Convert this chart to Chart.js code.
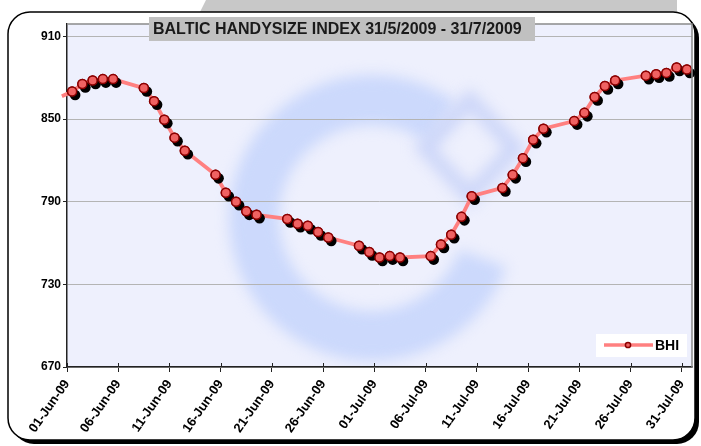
<!DOCTYPE html>
<html>
<head>
<meta charset="utf-8">
<script src="https://cdn.jsdelivr.net/npm/chart.js@4.4.0/dist/chart.umd.min.js"></script>
<style>
html, body { margin: 0; padding: 0; background: #fff; }
canvas { display: block; }
</style>
</head>
<body>
<canvas id="chart" width="701" height="446"></canvas>
<script>
// dados
const chartTitle = 'BALTIC HANDYSIZE INDEX 31/5/2009 - 31/7/2009';
const seriesName = 'BHI';
const dates = [
    '2009-05-31',
    '2009-06-01', '2009-06-02', '2009-06-03', '2009-06-04', '2009-06-05',
    '2009-06-08', '2009-06-09', '2009-06-10', '2009-06-11', '2009-06-12',
    '2009-06-15', '2009-06-16', '2009-06-17', '2009-06-18', '2009-06-19',
    '2009-06-22', '2009-06-23', '2009-06-24', '2009-06-25', '2009-06-26',
    '2009-06-29', '2009-06-30', '2009-07-01', '2009-07-02', '2009-07-03',
    '2009-07-06', '2009-07-07', '2009-07-08', '2009-07-09', '2009-07-10',
    '2009-07-13', '2009-07-14', '2009-07-15', '2009-07-16', '2009-07-17',
    '2009-07-20', '2009-07-21', '2009-07-22', '2009-07-23', '2009-07-24',
    '2009-07-27', '2009-07-28', '2009-07-29', '2009-07-30', '2009-07-31'
];
const bhiValues = [
    866.5,
    870, 875.5, 878, 879, 879,
    872.5, 863, 849.5, 836.5, 827,
    809.5, 796.5, 790, 783, 780.5,
    777.5, 774, 772.5, 768, 764,
    758, 753.5, 749.5, 750.5, 749.5,
    750.5, 759, 766, 779, 794,
    800, 809.5, 821.5, 835, 843,
    848.5, 854.5, 866, 874, 878,
    881.5, 882.5, 883.5, 887.5, 886
];
const xTickLabels = [
    '01-Jun-09', '06-Jun-09', '11-Jun-09', '16-Jun-09', '21-Jun-09', '26-Jun-09', '01-Jul-09',
    '06-Jul-09', '11-Jul-09', '16-Jul-09', '21-Jul-09', '26-Jul-09', '31-Jul-09'
];
const yTickValues = [670, 730, 790, 850, 910];

const lineColor = '#ff8080';
const markerFill = '#f06262';
const markerBorder = '#8b0000';
const fontFamily = '"Liberation Sans", Arial, sans-serif';

// posição no eixo: dias desde 01/06 + meio dia (ponto no centro do dia)
const dayZero = Date.UTC(2009, 5, 1);
function dayPos(s) {
    const p = s.split('-');
    return (Date.UTC(+p[0], +p[1] - 1, +p[2]) - dayZero) / 86400000 + 0.5;
}
const points = dates.map((d, i) => ({ x: dayPos(d), y: bhiValues[i] }));
const radii = dates.map(d => dayPos(d) < 0 ? 0 : 4.5);

function roundRect(ctx, x, y, w, h, r) {
    ctx.beginPath();
    ctx.moveTo(x + r, y);
    ctx.arcTo(x + w, y, x + w, y + h, r);
    ctx.arcTo(x + w, y + h, x, y + h, r);
    ctx.arcTo(x, y + h, x, y, r);
    ctx.arcTo(x, y, x + w, y, r);
    ctx.closePath();
}

const decorPlugin = {
    id: 'decor',
    beforeDraw(chart) {
        const ctx = chart.ctx;
        const a = chart.chartArea;
        ctx.save();
        ctx.fillStyle = '#fff';
        ctx.fillRect(0, 0, chart.width, chart.height);

        // faixa cinza atrás do quadro
        ctx.fillStyle = '#c8c8c8';
        ctx.beginPath();
        ctx.moveTo(206, 0);
        ctx.lineTo(677, 0);
        ctx.lineTo(677, 16);
        ctx.lineTo(198, 16);
        ctx.closePath();
        ctx.fill();

        // quadro com sombra
        ctx.fillStyle = '#000';
        roundRect(ctx, 12, 16, 687, 428, 22);
        ctx.fill();
        ctx.fillStyle = '#fff';
        roundRect(ctx, 8, 12, 687, 428, 22);
        ctx.fill();
        ctx.strokeStyle = '#000';
        ctx.lineWidth = 1.5;
        ctx.stroke();

        // fundo da área do gráfico
        ctx.fillStyle = '#eef0fd';
        ctx.fillRect(a.left, a.top, a.right - a.left, a.bottom - a.top);

        // marca d'água
        ctx.beginPath();
        ctx.rect(a.left, a.top, a.right - a.left, a.bottom - a.top);
        ctx.clip();
        ctx.filter = 'blur(7px)';
        ctx.strokeStyle = 'rgba(200,214,252,0.9)';
        ctx.lineWidth = 50;
        ctx.beginPath();
        ctx.arc(372, 218, 118, 20 * Math.PI / 180, 306 * Math.PI / 180, false);
        ctx.stroke();
        ctx.strokeStyle = 'rgba(200,210,248,0.85)';
        ctx.lineWidth = 16;
        ctx.beginPath();
        ctx.moveTo(470, 100);
        ctx.lineTo(515, 148);
        ctx.lineTo(470, 196);
        ctx.lineTo(425, 148);
        ctx.closePath();
        ctx.stroke();
        ctx.filter = 'none';
        ctx.restore();
    },
    afterDatasetDraw(chart, args) {
        // sombra dos marcadores e redesenho por cima
        const ctx = chart.ctx;
        const pts = args.meta.data;
        ctx.save();
        ctx.fillStyle = '#000';
        pts.forEach(p => {
            if (p.options.radius > 0) {
                ctx.beginPath();
                ctx.arc(p.x + 3, p.y + 3.5, p.options.radius + 0.8, 0, Math.PI * 2);
                ctx.fill();
            }
        });
        ctx.restore();
        pts.forEach(p => p.draw(ctx, chart.chartArea));
    },
    afterDraw(chart) {
        const ctx = chart.ctx;
        const a = chart.chartArea;
        const xs = chart.scales.x;
        ctx.save();

        // borda superior e direita
        ctx.strokeStyle = '#8a8a8a';
        ctx.lineWidth = 1.5;
        ctx.beginPath();
        ctx.moveTo(a.left, a.top);
        ctx.lineTo(a.right, a.top);
        ctx.lineTo(a.right, a.bottom);
        ctx.stroke();

        // marcas internas do eixo x
        ctx.strokeStyle = '#222';
        ctx.lineWidth = 1;
        xs.ticks.forEach(t => {
            const px = Math.round(xs.getPixelForValue(t.value)) + 0.5;
            ctx.beginPath();
            ctx.moveTo(px, a.bottom);
            ctx.lineTo(px, a.bottom - 4);
            ctx.stroke();
        });

        // legenda
        ctx.fillStyle = '#fff';
        ctx.fillRect(596, 334, 91, 23);
        ctx.strokeStyle = lineColor;
        ctx.lineWidth = 3.5;
        ctx.beginPath();
        ctx.moveTo(604, 345);
        ctx.lineTo(653, 345);
        ctx.stroke();
        ctx.beginPath();
        ctx.arc(628, 345, 2.6, 0, Math.PI * 2);
        ctx.fillStyle = markerFill;
        ctx.fill();
        ctx.strokeStyle = markerBorder;
        ctx.lineWidth = 1.5;
        ctx.stroke();
        ctx.fillStyle = '#000';
        ctx.font = 'bold 14px ' + fontFamily;
        ctx.textAlign = 'left';
        ctx.textBaseline = 'middle';
        ctx.fillText(chart.data.datasets[0].label, 655, 346);

        // título
        ctx.fillStyle = '#c0c0c0';
        ctx.fillRect(149, 17, 386, 24);
        ctx.fillStyle = '#1a1a1a';
        ctx.font = 'bold 16px ' + fontFamily;
        ctx.fillText(chartTitle, 153, 29.5, 378);
        ctx.restore();
    }
};

const ctx = document.getElementById('chart').getContext('2d');
const chart = new Chart(ctx, {
    type: 'line',
    data: {
        datasets: [{
            label: seriesName,
            data: points,
            borderColor: lineColor,
            borderWidth: 3.8,
            backgroundColor: markerFill,
            pointBackgroundColor: markerFill,
            pointBorderColor: markerBorder,
            pointBorderWidth: 1.5,
            pointRadius: radii,
            tension: 0,
            clip: false
        }]
    },
    options: {
        responsive: false,
        animation: false,
        devicePixelRatio: 1,
        layout: { padding: { left: 0, top: 24, right: 9, bottom: 0 } },
        plugins: {
            legend: { display: false },
            title: { display: false },
            tooltip: { enabled: false }
        },
        scales: {
            x: {
                type: 'linear',
                min: 0,
                max: 61,
                afterBuildTicks: s => { s.ticks = xTickLabels.map((l, i) => ({ value: i * 5 })); },
                afterFit: s => { s.height = 79; },
                ticks: {
                    callback: (v, i) => xTickLabels[i],
                    autoSkip: false,
                    minRotation: 55,
                    maxRotation: 55,
                    padding: 5,
                    color: '#000',
                    font: { family: fontFamily, size: 13, weight: 'bold' }
                },
                grid: { drawOnChartArea: false, tickLength: 5, tickColor: '#222' },
                border: { color: '#222', width: 1.5 }
            },
            y: {
                min: 670,
                max: 919,
                afterBuildTicks: s => { s.ticks = yTickValues.map(v => ({ value: v })); },
                afterFit: s => { s.width = 67; },
                ticks: {
                    padding: 2,
                    color: '#000',
                    font: { family: fontFamily, size: 12, weight: 'bold' }
                },
                grid: { color: '#b4b4b4', tickColor: '#222', tickLength: 4, lineWidth: 1 },
                border: { color: '#222', width: 1.5 }
            }
        }
    },
    plugins: [decorPlugin]
});
</script>
</body>
</html>
